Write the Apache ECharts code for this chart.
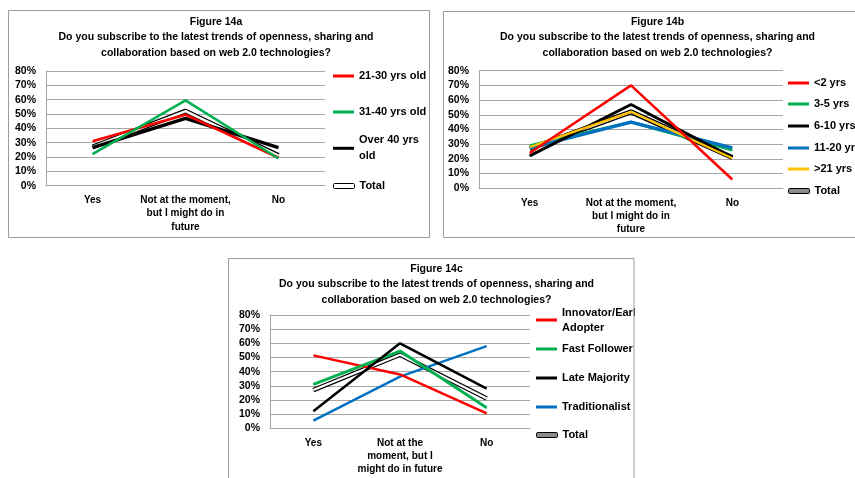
<!DOCTYPE html>
<html>
<head>
<meta charset="utf-8">
<script src="https://cdn.jsdelivr.net/npm/echarts@6/dist/echarts.min.js"></script>
<style>
  html, body { margin: 0; padding: 0; background: #fff; }
  #chart { width: 855px; height: 478px; }
</style>
</head>
<body>
<div id="chart"></div>
<script>
// Answer categories shared by the three survey charts
const categories = ['Yes', 'Not at the moment, but I might do in future', 'No'];
// Wrapped tick labels for each chart
const tickLabelsAB = ['Yes', 'Not at the moment,\nbut I might do in\nfuture', 'No'];
const tickLabelsC = ['Yes', 'Not at the\nmoment, but I\nmight do in future', 'No'];
const yTicks = [0, 10, 20, 30, 40, 50, 60, 70, 80];

// Figure 14a: by age group (% of respondents)
const age21to30 = [31, 49.5, 19.5];
const age31to40 = [22, 59.5, 19];
const ageOver40 = [26.5, 47, 26.5];
const totalA = [27, 52, 21];

// Figure 14b: by years of experience
const exp2 = [24, 70, 6];
const exp3to5 = [29, 45, 26];
const exp6to10 = [22, 57, 21];
const exp11to20 = [27.5, 45, 27.5];
const exp21 = [28, 52, 20.5];
const totalB = [27, 52, 21];

// Figure 14c: by adopter type
const innovator = [51.5, 38, 10.5];
const fastFollower = [31, 54.5, 14.5];
const lateMajority = [12, 60, 28];
const traditionalist = [5.5, 36.5, 58];
const totalC = [27, 52, 21];

const question = 'Do you subscribe to the latest trends of openness, sharing and\ncollaboration based on web 2.0 technologies?';

const FONT = "'Liberation Sans', Arial, sans-serif";
const GRID_GREY = '#a6a6a6';
const FRAME_GREY = '#9c9c9c';

const RED = '#ff0000', GREEN = '#00b050', BLACK = '#000000', BLUE = '#0070c0', YELLOW = '#ffc000';

function line(name, data, color, width, gi) {
  return {
    type: 'line', name: name, data: data,
    xAxisIndex: gi, yAxisIndex: gi,
    symbol: 'none', silent: true,
    lineStyle: { color: color, width: width },
    itemStyle: { color: color }
  };
}
// "Total" is a double line: black outline with a light core
function totalLines(data, gi, outerW, innerW, core) {
  return [
    line('Total', data, BLACK, outerW, gi),
    line('Total', data, core, innerW, gi)
  ];
}

function xAxis(gi, labels) {
  return {
    type: 'category', gridIndex: gi, data: categories,
    axisLine: { lineStyle: { color: GRID_GREY, width: 1 } },
    axisTick: { show: false },
    axisLabel: {
      interval: 0, margin: 8,
      color: '#000', fontFamily: FONT, fontWeight: 'bold', fontSize: 10,
      lineHeight: 13.3,
      formatter: function (v, i) { return labels[i]; }
    }
  };
}
function yAxis(gi) {
  return {
    type: 'value', gridIndex: gi,
    min: yTicks[0], max: yTicks[yTicks.length - 1], interval: 10,
    axisLine: { show: true, lineStyle: { color: GRID_GREY, width: 1 } },
    axisTick: { show: false },
    splitLine: { lineStyle: { color: GRID_GREY, width: 1 } },
    axisLabel: {
      margin: 10, color: '#000', fontFamily: FONT, fontWeight: 'bold', fontSize: 10.5,
      formatter: '{value}%'
    }
  };
}

function legendEntry(name, x, top, opts) {
  opts = opts || {};
  const item = { name: name };
  if (opts.total) {
    item.icon = 'roundRect';
    item.itemStyle = { color: opts.total, borderColor: '#000', borderWidth: 1 };
  } else {
    item.icon = 'rect';
    item.itemStyle = { borderWidth: 0 };
  }
  const textStyle = {
    fontFamily: FONT, fontWeight: 'bold', fontSize: 11, color: '#000',
    lineHeight: opts.lineHeight || 14
  };
  if (opts.padTop) textStyle.padding = [opts.padTop, 0, 0, 0];
  return {
    data: [item], left: x, top: top, padding: 0,
    orient: 'vertical', selectedMode: false,
    itemWidth: 21, itemHeight: opts.total ? 5 : 3,
    textStyle: textStyle
  };
}

function title(text, x, top) {
  return {
    text: text, left: x, top: top, textAlign: 'center', padding: 0,
    textStyle: {
      fontFamily: FONT, fontWeight: 'bold', fontSize: 10.5,
      lineHeight: 15.5, color: '#000'
    }
  };
}

const series = [].concat(
  totalLines(totalA, 0, 5, 2.4, '#ffffff'),
  [
    line('Over 40 yrs\nold', ageOver40, BLACK, 3.5, 0),
    line('21-30 yrs old', age21to30, RED, 2.5, 0),
    line('31-40 yrs old', age31to40, GREEN, 2.5, 0)
  ],
  totalLines(totalB, 1, 5, 2.2, '#ffffff'),
  [
    line('3-5 yrs', exp3to5, GREEN, 3, 1),
    line('11-20 yrs', exp11to20, BLUE, 3.5, 1),
    line('6-10 yrs', exp6to10, BLACK, 3, 1),
    line('>21 yrs', exp21, YELLOW, 2.2, 1),
    line('<2 yrs', exp2, RED, 2.5, 1)
  ],
  totalLines(totalC, 2, 4.6, 2.2, '#ffffff'),
  [
    line('Traditionalist', traditionalist, BLUE, 2.5, 2),
    line('Innovator/Early\nAdopter', innovator, RED, 2.5, 2),
    line('Fast Follower', fastFollower, GREEN, 3, 2),
    line('Late Majority', lateMajority, BLACK, 2.5, 2)
  ]
);

const option = {
  animation: false,
  backgroundColor: '#ffffff',
  title: [
    title('Figure 14a\n' + question, 216, 14),
    title('Figure 14b\n' + question, 657.5, 14),
    title('Figure 14c\n' + question, 436.5, 261)
  ],
  grid: [
    { left: 46, top: 71, width: 279, height: 114.7 },
    { left: 479, top: 70.7, width: 304, height: 117.6 },
    { left: 270, top: 315, width: 260, height: 113.3 }
  ],
  xAxis: [xAxis(0, tickLabelsAB), xAxis(1, tickLabelsAB), xAxis(2, tickLabelsC)],
  yAxis: [yAxis(0), yAxis(1), yAxis(2)],
  legend: [
    legendEntry('21-30 yrs old', 333, 69),
    legendEntry('31-40 yrs old', 333, 105),
    legendEntry('Over 40 yrs\nold', 333, 124.3, { lineHeight: 16, padTop: 16 }),
    legendEntry('Total', 333, 179, { total: '#ffffff' }),

    legendEntry('<2 yrs', 788, 76),
    legendEntry('3-5 yrs', 788, 97),
    legendEntry('6-10 yrs', 788, 119),
    legendEntry('11-20 yrs', 788, 141),
    legendEntry('>21 yrs', 788, 162),
    legendEntry('Total', 788, 184, { total: '#8c8c8c' }),

    legendEntry('Innovator/Early\nAdopter', 536, 297.5, { lineHeight: 15, padTop: 15 }),
    legendEntry('Fast Follower', 536, 342),
    legendEntry('Late Majority', 536, 371),
    legendEntry('Traditionalist', 536, 400),
    legendEntry('Total', 536, 428, { total: '#8c8c8c' })
  ],
  graphic: [
    { type: 'rect', silent: true, z: -10, shape: { x: 8.5, y: 10.5, width: 421, height: 227 },
      style: { fill: 'none', stroke: FRAME_GREY, lineWidth: 1 } },
    { type: 'rect', silent: true, z: -10, shape: { x: 443.5, y: 11.5, width: 430, height: 226 },
      style: { fill: 'none', stroke: FRAME_GREY, lineWidth: 1 } },
    // chart area of figure 14c clips anything past its right frame
    { type: 'rect', silent: true, z: 100, shape: { x: 635, y: 305, width: 60, height: 30 },
      style: { fill: '#ffffff' } },
    { type: 'rect', silent: true, z: 101, shape: { x: 228.5, y: 258.5, width: 405.5, height: 240 },
      style: { fill: 'none', stroke: FRAME_GREY, lineWidth: 1 } }
  ],
  series: series
};

const chart = echarts.init(document.getElementById('chart'), null, { renderer: 'canvas' });
chart.setOption(option);
</script>
</body>
</html>
